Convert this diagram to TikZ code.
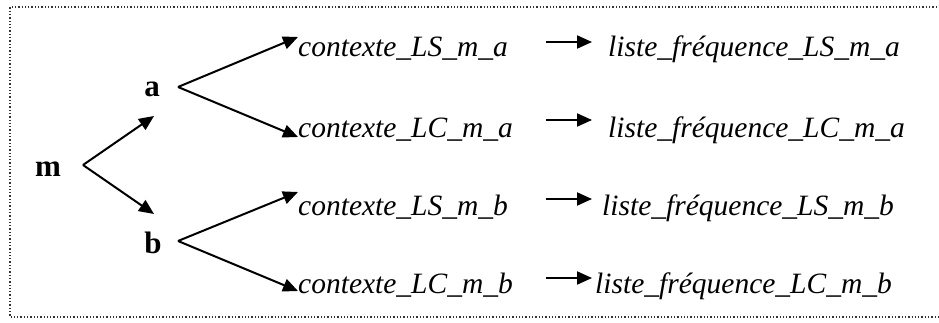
\documentclass[tikz,border=0pt]{standalone}
\usepackage{fontspec}
\setmainfont{Liberation Serif}
\usetikzlibrary{arrows.meta}
\begin{document}
\begin{tikzpicture}[x=1pt,y=-1pt,
  lbl/.style={inner sep=0pt,font=\fontsize{29.5}{32}\selectfont\itshape,anchor=base west},
  root/.style={inner sep=0pt,font=\fontsize{31}{34}\selectfont\bfseries,anchor=base},
  arr/.style={line width=2pt,-{Triangle[length=15pt,width=13pt]}},
  frame/.style={line width=1.3pt,dotted,black!80}]
\useasboundingbox (0,0) rectangle (939,323);
% dotted frame (open on the right)
\draw[frame] (960,7) -- (10,7) -- (10,317) -- (960,317);
% tree nodes
\node[root] (m) at (48,177) {m};
\node[root] (a) at (152,97) {a};
\node[root] (b) at (153,253) {b};
\node[lbl] (c1) at (298,57) {contexte\_LS\_m\_a};
\node[lbl] (c2) at (298,138) {contexte\_LC\_m\_a};
\node[lbl] (c3) at (298,215) {contexte\_LS\_m\_b};
\node[lbl] (c4) at (298,293) {contexte\_LC\_m\_b};
\node[lbl] (l1) at (608,57) {liste\_fréquence\_LS\_m\_a};
\node[lbl] (l2) at (608,138) {liste\_fréquence\_LC\_m\_a};
\node[lbl] (l3) at (602,215) {liste\_fréquence\_LS\_m\_b};
\node[lbl] (l4) at (595,293) {liste\_fréquence\_LC\_m\_b};
% junction points of the branches
\coordinate (mj) at (83,165);
\coordinate (aj) at (178,87);
\coordinate (bj) at (178,241);
\draw[arr] (mj) -- (154,116);
\draw[arr] (mj) -- (154,214);
\draw[arr] (aj) -- (c1.west |- 0,37);
\draw[arr] (aj) -- (c2.west |- 0,137);
\draw[arr] (bj) -- (c3.west |- 0,192);
\draw[arr] (bj) -- (c4.west |- 0,291);
% short arrows between the two columns
\foreach \y in {42,120,199,278}{
  \draw[arr] (546,\y) -- (592,\y);
}
\end{tikzpicture}
\end{document}
